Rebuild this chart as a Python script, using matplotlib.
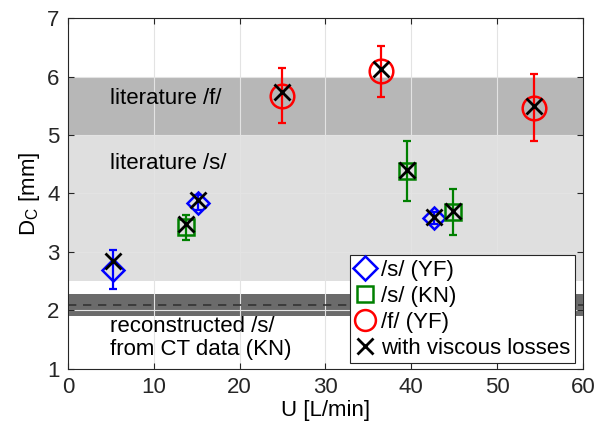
import matplotlib
matplotlib.use('Agg')
import matplotlib.pyplot as plt
from matplotlib.lines import Line2D

plt.rcParams['font.family'] = ['Liberation Sans', 'DejaVu Sans']

# /s/ (YF)
s_yf_u = [5.2, 15.1, 42.6]
s_yf_d = [2.70, 3.84, 3.58]
s_yf_err = [0.33, 0.13, 0.11]
s_yf_visc = [2.84, 3.89, 3.60]

# /s/ (KN)
s_kn_u = [13.8, 39.5, 44.9]
s_kn_d = [3.42, 4.38, 3.68]
s_kn_err = [0.21, 0.51, 0.39]
s_kn_visc = [3.47, 4.40, 3.70]

# /f/ (YF)
f_yf_u = [24.9, 36.5, 54.3]
f_yf_d = [5.67, 6.09, 5.47]
f_yf_err = [0.47, 0.44, 0.58]
f_yf_visc = [5.73, 6.13, 5.50]

lit_f = (5.0, 6.0)
lit_s = (2.5, 5.0)
ct_band = (1.9, 2.28)
ct_mean = 2.1

fig = plt.figure(figsize=(5.96, 4.29), dpi=100)
ax = fig.add_axes([0.114, 0.140, 0.864, 0.818])

ax.axhspan(lit_s[0], lit_s[1], color='#dedede', zorder=0.5, lw=0, alpha=0.95)
ax.axhspan(lit_f[0], lit_f[1], color='#b3b3b3', zorder=0.5, lw=0, alpha=0.95)
ax.axhspan(ct_band[0], ct_band[1], color='#6b6b6b', zorder=0.5, lw=0)
ax.axhline(ct_mean, color='#333333', ls=(0, (5, 4)), lw=1.2, zorder=0.6)

ax.text(4.9, 5.62, 'literature /f/', fontsize=16, va='center')
ax.text(4.9, 4.52, 'literature /s/', fontsize=16, va='center')
ax.text(4.9, 1.72, 'reconstructed /s/', fontsize=16, va='center')
ax.text(4.9, 1.33, 'from CT data (KN)', fontsize=16, va='center')

ekw = dict(capsize=3, elinewidth=1.6, capthick=1.6, ls='none', zorder=3)
ax.errorbar(s_yf_u, s_yf_d, yerr=s_yf_err, color='#0000ff', **ekw)
ax.plot(s_yf_u, s_yf_d, 'D', ms=11, mfc='none', mec='#0000ff', mew=1.8, zorder=3)
ax.errorbar(s_kn_u, s_kn_d, yerr=s_kn_err, color='#008000', **ekw)
ax.plot(s_kn_u, s_kn_d, 's', ms=12, mfc='none', mec='#008000', mew=1.8, zorder=3)
ax.errorbar(f_yf_u, f_yf_d, yerr=f_yf_err, color='#ff0000', **ekw)
ax.plot(f_yf_u, f_yf_d, 'o', ms=17, mfc='none', mec='#ff0000', mew=1.8, zorder=3)

for u, d in [(s_yf_u, s_yf_visc), (s_kn_u, s_kn_visc), (f_yf_u, f_yf_visc)]:
    ax.plot(u, d, 'x', ms=12, mew=2, color='black', ls='none', zorder=4)

ax.set_xlim(0, 60)
ax.set_ylim(1, 7)
ax.set_xticks(range(0, 61, 10))
ax.set_yticks(range(1, 8))
ax.grid(True, color='#e3e3e3', lw=0.8, zorder=0)
ax.set_axisbelow(True)
ax.tick_params(direction='in', top=True, right=True, labelsize=16, length=4, colors='#262626', pad=6)
for sp in ax.spines.values():
    sp.set_color('#262626')
    sp.set_linewidth(0.8)
    sp.set_zorder(5)

ax.set_xlabel('U [L/min]', fontsize=16, labelpad=1)
ax.set_ylabel('D$_\\mathregular{C}$ [mm]', fontsize=16, labelpad=4)

handles = [
    Line2D([], [], marker='D', ms=12, mfc='none', mec='#0000ff', mew=1.8, ls='none'),
    Line2D([], [], marker='s', ms=11, mfc='none', mec='#008000', mew=1.8, ls='none'),
    Line2D([], [], marker='o', ms=15, mfc='none', mec='#ff0000', mew=1.8, ls='none'),
    Line2D([], [], marker='x', ms=11, mew=2, color='black', ls='none'),
]
labels = ['/s/ (YF)', '/s/ (KN)', '/f/ (YF)', 'with viscous losses']
leg = ax.legend(handles, labels, loc='lower right', bbox_to_anchor=(0.984, 0.017),
                fontsize=16, frameon=True, fancybox=False, edgecolor='#262626',
                framealpha=1, borderpad=0.2, labelspacing=0.22, handlelength=1.0,
                handletextpad=0.2, borderaxespad=0)
leg.get_frame().set_linewidth(0.8)
leg.set_zorder(6)

fig.savefig('out.png', dpi=100)
